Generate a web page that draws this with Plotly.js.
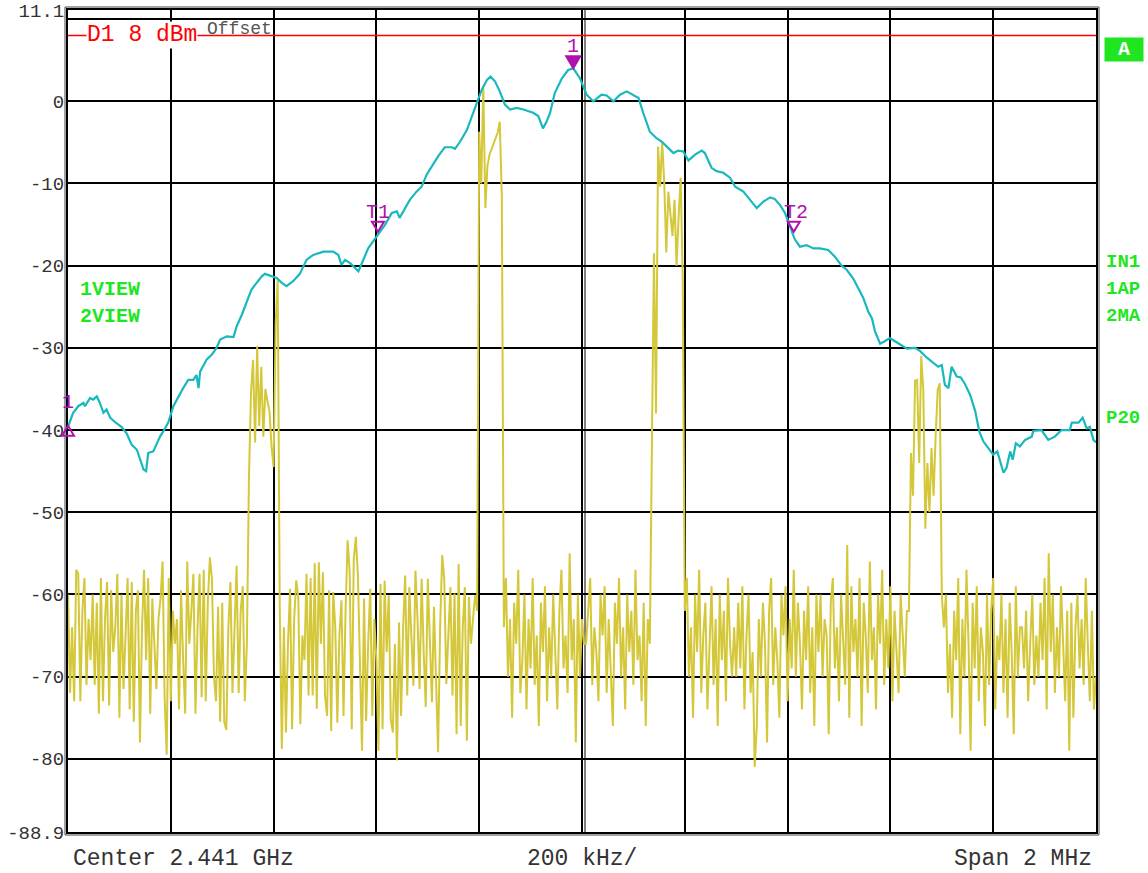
<!DOCTYPE html>
<html>
<head>
<meta charset="utf-8">
<script src="https://cdn.plot.ly/plotly-3.0.1.min.js"></script>
<style>
  html, body { margin: 0; padding: 0; background: #ffffff; }
  #chart { width: 1148px; height: 873px; }
</style>
</head>
<body>
<div id="chart"></div>
<script>
// ---- sweep settings (kHz offset from centre 2.441 GHz) ----
const centerLabel = "Center 2.441 GHz";
const divLabel = "200 kHz/";
const spanLabel = "Span 2 MHz";
const spanStartKHz = -1000;
const spanStopKHz = 1000;
const sweepPoints = 501;

const yTickVals = [11.1, 10, 0, -10, -20, -30, -40, -50, -60, -70, -80, -88.9];
const yTickText = ["11.1", "", "0", "-10", "-20", "-30", "-40", "-50", "-60", "-70", "-80", "-88.9"];

// ---- trace 1 (cyan, max hold) ----
const cyanFreq = [
  -1000,-990,-980,-970,-967,-957,-951,-944,-938,-931,-925,-918,-909,-896,-886,-876,-866,-860,-853,-848,
  -844,-834,-827,-821,-815,-805,-795,-785,-776,-766,-756,-750,-746,-743,-730,-720,-711,-704,-691,-678,
  -672,-662,-652,-643,-633,-623,-617,-607,-594,-584,-575,-562,-549,-536,-523,-503,-484,-474,-468,-461,
  -451,-435,-425,-416,-399,-383,-370,-360,-355,-348,-335,-322,-312,-302,-289,-280,-267,-253,-247,-237,
  -224,-215,-205,-195,-185,-178,-169,-160,-150,-140,-127,-114,-95,-85,-76,-69,-62,-53,-39,-27,
  -17,-4,9,22,38,48,61,74,87,93,103,110,119,132,145,155,168,178,187,197,
  207,220,233,239,252,262,275,288,298,314,327,340,353,366,375,385,395,405,414,424,
  437,450,463,479,492,505,515,528,538,547,557,564,570,580,589,599,609,622,632,648,
  658,671,683,693,700,706,713,719,729,737,745,755,765,773,781,790,800,808,813,820,
  826,833,838,844,852,862,875,878,894,907,920,933,949,953,966,974,982,988,995,1000
];
const cyanLevel = [
  -39.6,-37.9,-37.1,-36.7,-37.1,-36.1,-36.3,-35.9,-36.7,-37.9,-37.5,-38.5,-39.0,-39.6,-40.4,-41.8,-42.4,-43.4,-44.8,-45.0,
  -42.8,-42.6,-41.6,-40.8,-40.2,-39.1,-37.1,-35.9,-34.9,-33.9,-33.9,-33.3,-34.9,-32.9,-31.4,-30.8,-30.0,-29.0,-28.6,-28.7,
  -27.4,-26.0,-24.4,-22.9,-22.1,-21.3,-21.0,-21.2,-21.5,-22.1,-22.5,-21.9,-21.0,-19.3,-18.7,-18.3,-18.3,-18.7,-19.9,-19.3,
  -19.7,-20.7,-19.3,-17.9,-16.4,-15.0,-13.6,-13.4,-14.2,-13.4,-12.0,-11.0,-10.4,-8.9,-7.5,-6.7,-5.6,-5.6,-5.8,-4.9,
  -3.5,-2.0,-0.2,1.4,2.6,3.0,2.4,1.2,-0.4,-1.0,-0.8,-1.0,-1.4,-1.8,-3.3,-2.5,-1.4,1.0,2.8,3.8,
  4.0,2.8,0.8,0.0,0.8,0.7,0.0,0.8,1.2,1.0,0.7,0.4,-1.4,-3.7,-4.5,-4.9,-5.7,-6.3,-6.0,-6.1,
  -7.2,-6.5,-6.0,-6.3,-8.1,-8.5,-8.7,-9.3,-10.4,-11.0,-12.0,-13.0,-12.2,-11.7,-11.9,-12.6,-13.6,-15.2,-16.8,-17.7,
  -17.5,-17.9,-17.9,-18.1,-18.9,-20.0,-20.5,-21.6,-22.9,-23.9,-25.6,-26.4,-28.0,-29.5,-29.2,-28.8,-29.2,-29.7,-30.1,-30.0,
  -30.4,-31.2,-31.8,-32.3,-32.1,-34.5,-34.9,-32.3,-33.5,-33.6,-34.4,-35.7,-37.7,-40.2,-41.4,-42.2,-43.0,-42.6,-43.8,-45.2,
  -44.6,-42.6,-43.6,-41.6,-42.0,-41.2,-40.8,-40.1,-40.0,-41.2,-40.8,-40.0,-40.0,-39.1,-39.1,-38.5,-39.8,-39.6,-41.2,-41.5
];

// ---- trace 2 (yellow, clear write), one value per sweep point, in sweep order ----
const yellowNoiseA = [
  -60,-72,-64,-73,-57,-57.5,-73,-62,-58,-71,
  -63,-68,-60,-71,-61,-74.5,-58,-73,-63,-58.5,
  -73.5,-59.5,-67,-64,-57.5,-75,-60,-71.5,-65,-58,
  -74,-58.5,-75.5,-62,-59.5,-78,-64,-57,-68,-58,
  -74.5,-60.5,-66,-71.5,-63,-60.5,-56,-72.5,-79.5,-58,
  -73,-62,-66,-63,-74,-59.5,-68,-74.5,-56,-66,
  -62,-57.5,-74.5,-64,-57.5,-72.5,-57,-73,-61,-55.5,
  -58,-70,-73,-61.5,-75.5,-61,-75.5,-76.5,-64,-58.5,
  -72,-63,-56.5,-72,-62,-59,-73
];
const yellowBurst1 = [-66,-46,-35.5,-31.5,-41.5,-29.8,-39.5,-32.3,-40.8,-35,-36.5,-37.7,-42,-44.5,-27,-21.7];
const yellowNoiseB = [
  -62,-78.8,-64,-76.8,-66,-59.3,-76.4,-63,-58.3,-60.3,
  -75.8,-65,-68,-57.5,-72.3,-58,-72.3,-56.2,-73.9,-56.1,
  -66,-57.3,-72.3,-74.8,-59.5,-76.6,-59.7,-64,-75.6,-65,
  -60.7,-74.8,-62,-53.4,-57.3,-76.4,-55.7,-53,-57.7,-70,
  -79,-60.5,-75.4,-66,-59.3,-74.8,-63,-68,-79,-58.7,
  -76.4,-58.3,-67,-60.1,-75.2,-76.8,-66,-80.2,-63.4,-74.8,
  -64,-57.7,-72.3,-59.1,-66,-71.1,-57.1,-63,-71.5,-58.1,
  -67,-73.7,-58.1,-66,-73.1,-61.5,-70,-79.2,-64,-55.2,
  -58.1,-70.9,-65,-59.1,-72.3,-59.9,-77,-56.3,-76,-64,
  -59.1,-77.8,-60.3,-66,-63,-60.1
];
const yellowBurst2 = [-62,-3.7,-10,1.8,-13,-7.9,-6.5,-5.8,-5.2,-4.6,-3.8,-2.5,-11.5];
const yellowNoiseC = [
  -64,-58,-70,-63,-75,-61,-66,-57,-72,-68,
  -60,-74,-63,-69,-58,-71,-65,-76,-61,-67,
  -59,-73,-64,-70,-60,-66,-74,-62,-57,-69,
  -65,-72,-55,-68,-63,-78,-60,-70,-63,-66,
  -66,-62,-58,-71,-64,-67,-73,-60,-65,-59,
  -72,-63,-69,-76,-61,-66,-58,-70,-64,-74,
  -60,-67,-62,-71,-57,-68,-65,-73,-61,-76,
  -63,-66
];
const yellowBurst3 = [-42,-18.5,-38,-5.5,-10.4,-4.9,-9.9,-18.4,-11,-13.6,-16.4,-12,-20,-14,-9.3,-21.7];
const yellowNoiseD = [
  -62,-58,-70,-64,-75,-60,-67,-57,-72,-65,
  -61,-74,-66,-59,-71,-63,-76,-60,-68,-62,
  -73,-58,-66,-70,-64,-70,-61,-69,-59,-74,
  -65,-60,-72,-67,-81,-76,-63,-70,-61,-66,
  -78,-62,-58,-71,-64,-68,-75,-60,-65,-59,
  -73,-63,-69,-57,-70,-61,-66,-74,-62,-68,
  -59,-72,-64,-76,-60,-67,-60,-70,-63,-65,
  -77,-61,-58,-69,-64,-73,-60,-66,-71,-54,
  -75,-59,-67,-63,-70,-58,-76,-61,-65,-72,
  -56,-68,-64,-74,-60,-66,-57,-71,-63,-69,
  -59,-73,-62,-67,-72,-60,-65,-70,-62
];
const yellowBurst4 = [-62,-42.8,-48,-34,-33.9,-44,-31,-35.1,-52,-44,-50,-42.2,-48,-40.8,-35.1,-34.3,-60];
const yellowNoiseE = [
  -64,-60,-72,-66,-75,-62,-68,-58,-77,-63,
  -70,-57,-66,-79,-61,-69,-59,-73,-64,-67,
  -76,-60,-71,-62,-58,-74,-65,-68,-60,-72,
  -63,-75,-61,-67,-77,-59,-70,-64,-64,-69,
  -62,-73,-66,-60,-71,-65,-70,-61,-68,-58,
  -74,-55,-67,-60,-72,-64,-70,-59,-66,-73,
  -62,-79,-61,-75,-64,-60,-69,-63,-71,-58,
  -66,-73,-62,-74,-70
];

// ---- markers and display line ----
const displayLineLevel = 8;
const displayLineLabel = "D1 8 dBm";
const marker1Freq = -17, marker1Level = 4.0;
const t1Freq = -397, t1Level = -16.0;
const t2Freq = 412, t2Level = -16.0;
const leftMarkerLevel = -39.6;

// ---- build ----
const yellowLevel = [].concat(yellowNoiseA, yellowBurst1, yellowNoiseB, yellowBurst2,
  yellowNoiseC, yellowBurst3, yellowNoiseD, yellowBurst4, yellowNoiseE);
const sweepStep = (spanStopKHz - spanStartKHz) / (sweepPoints - 1);
const yellowFreq = yellowLevel.map((_, i) => spanStartKHz + i * sweepStep);

const MONO = "Liberation Mono, Courier New, monospace";
const GREEN = "#1fe61f";
const MAG = "#b010b0";

const traces = [
  { x: yellowFreq, y: yellowLevel, type: "scatter", mode: "lines",
    line: { color: "#d4c83a", width: 2 }, hoverinfo: "skip" },
  { x: cyanFreq, y: cyanLevel, type: "scatter", mode: "lines",
    line: { color: "#19b8bf", width: 2.2 }, hoverinfo: "skip" }
];

const W = 1028, H = 822;
function tri(xref, xa, ya, path, filled) {
  return { type: "path", xref: xref, yref: "y", xsizemode: "pixel", ysizemode: "pixel",
    xanchor: xa, yanchor: ya, path: path,
    line: { color: MAG, width: 2 }, fillcolor: filled ? MAG : "rgba(0,0,0,0)", layer: "above" };
}

const shapes = [
  { type: "line", xref: "x", yref: "paper", xsizemode: "pixel", xanchor: 0, x0: 3, x1: 3, y0: 0, y1: 1,
    line: { color: "#000", width: 1 }, layer: "below" },
  { type: "rect", xref: "paper", yref: "paper", x0: -3 / W, x1: 1 + 3 / W, y0: -3 / H, y1: 1 + 3 / H,
    line: { color: "#444", width: 1 }, layer: "above" },
  { type: "line", xref: "paper", yref: "y", x0: 0, x1: 1, y0: displayLineLevel, y1: displayLineLevel,
    line: { color: "#ff0000", width: 1.5 }, layer: "above" },
  tri("x", marker1Freq, marker1Level, "M-7,12 L7,12 L0,0 Z", true),
  tri("x", t1Freq, t1Level, "M-6,11 L6,11 L0,1 Z", false),
  tri("x", t2Freq, t2Level, "M-6,11 L6,11 L0,1 Z", false),
  tri("paper", 0, leftMarkerLevel, "M0,1 L6,-9 L-6,-9 Z", false)
];

const annotations = [
  { xref: "paper", yref: "paper", x: (205 - 68) / W, y: (832 - 29) / H, xanchor: "left", yanchor: "middle",
    text: "Offset", showarrow: false, font: { family: MONO, size: 18, color: "#555" } },
  { xref: "paper", yref: "y", x: (86 - 68) / W, y: displayLineLevel, xanchor: "left", yanchor: "middle",
    text: displayLineLabel, showarrow: false, bgcolor: "#ffffff", borderpad: 0,
    font: { family: MONO, size: 23, color: "#ff0000" } },
  { xref: "paper", yref: "paper", x: (78 - 68) / W, y: (832 - 289) / H, xanchor: "left", yanchor: "middle",
    text: "<b>1VIEW</b>", showarrow: false, font: { family: MONO, size: 20, color: GREEN } },
  { xref: "paper", yref: "paper", x: (78 - 68) / W, y: (832 - 316) / H, xanchor: "left", yanchor: "middle",
    text: "<b>2VIEW</b>", showarrow: false, font: { family: MONO, size: 20, color: GREEN } },
  { xref: "paper", yref: "paper", x: (1104 - 68) / W, y: (832 - 49.5) / H, xanchor: "left", yanchor: "middle",
    text: "<b>A</b>", showarrow: false, bgcolor: GREEN, width: 36, height: 21, align: "center",
    font: { family: MONO, size: 20, color: "#ffffff" } },
  { xref: "paper", yref: "paper", x: (1104 - 68) / W, y: (832 - 262) / H, xanchor: "left", yanchor: "middle",
    text: "<b>IN1</b>", showarrow: false, font: { family: MONO, size: 19, color: GREEN } },
  { xref: "paper", yref: "paper", x: (1104 - 68) / W, y: (832 - 289) / H, xanchor: "left", yanchor: "middle",
    text: "<b>1AP</b>", showarrow: false, font: { family: MONO, size: 19, color: GREEN } },
  { xref: "paper", yref: "paper", x: (1104 - 68) / W, y: (832 - 316) / H, xanchor: "left", yanchor: "middle",
    text: "<b>2MA</b>", showarrow: false, font: { family: MONO, size: 19, color: GREEN } },
  { xref: "paper", yref: "paper", x: (1104 - 68) / W, y: (832 - 418) / H, xanchor: "left", yanchor: "middle",
    text: "<b>P20</b>", showarrow: false, font: { family: MONO, size: 19, color: GREEN } },
  { xref: "paper", yref: "paper", x: (71 - 68) / W, y: (832 - 859) / H, xanchor: "left", yanchor: "middle",
    text: centerLabel, showarrow: false, font: { family: MONO, size: 23, color: "#333" } },
  { xref: "paper", yref: "paper", x: 0.5, y: (832 - 859) / H, xanchor: "center", yanchor: "middle",
    text: divLabel, showarrow: false, font: { family: MONO, size: 23, color: "#333" } },
  { xref: "paper", yref: "paper", x: (1094 - 68) / W, y: (832 - 859) / H, xanchor: "right", yanchor: "middle",
    text: spanLabel, showarrow: false, font: { family: MONO, size: 23, color: "#333" } },
  { xref: "x", yref: "y", x: marker1Freq, y: marker1Level, yshift: 22, xanchor: "center", yanchor: "middle",
    text: "1", showarrow: false, font: { family: MONO, size: 20, color: MAG } },
  { xref: "x", yref: "y", x: t1Freq, y: t1Level, yshift: 20, xanchor: "center", yanchor: "middle",
    text: "T1", showarrow: false, font: { family: MONO, size: 20, color: MAG } },
  { xref: "x", yref: "y", x: t2Freq, y: t2Level, yshift: 20, xshift: 2, xanchor: "center", yanchor: "middle",
    text: "T2", showarrow: false, font: { family: MONO, size: 20, color: MAG } },
  { xref: "paper", yref: "y", x: 0, y: leftMarkerLevel, yshift: 24, xanchor: "center", yanchor: "middle",
    text: "1", showarrow: false, font: { family: MONO, size: 20, color: MAG } }
];

const layout = {
  width: 1148, height: 873,
  margin: { l: 68, r: 52, t: 10, b: 41 },
  paper_bgcolor: "#ffffff", plot_bgcolor: "#ffffff",
  showlegend: false,
  xaxis: {
    range: [spanStartKHz, spanStopKHz], tickmode: "linear", tick0: 0, dtick: 200,
    showticklabels: false, ticks: "", showgrid: true, gridcolor: "#000", gridwidth: 2,
    zeroline: false, showline: true, linecolor: "#000", linewidth: 2, mirror: true, fixedrange: true
  },
  yaxis: {
    range: [-88.9, 11.1], tickmode: "array", tickvals: yTickVals, ticktext: yTickText,
    ticks: "", ticklabelstandoff: -2, showgrid: true, gridcolor: "#000", gridwidth: 2,
    zeroline: false, showline: true, linecolor: "#000", linewidth: 2, mirror: true,
    tickfont: { family: MONO, size: 19, color: "#333" }, fixedrange: true
  },
  shapes: shapes,
  annotations: annotations
};

Plotly.newPlot("chart", traces, layout, { staticPlot: true, displayModeBar: false });
</script>
</body>
</html>
